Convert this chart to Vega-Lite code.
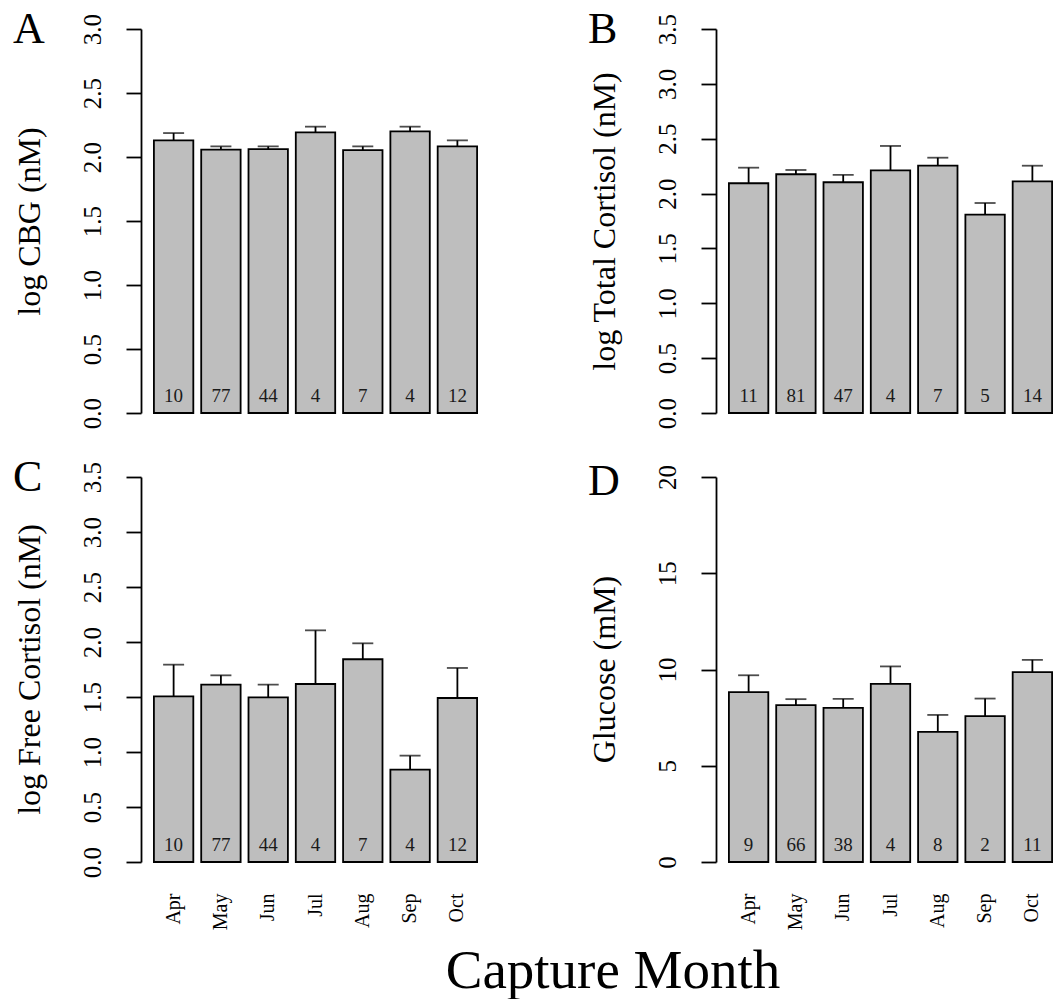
{
  "$schema": "https://vega.github.io/schema/vega-lite/v6.json",
  "background": "white",
  "padding": {"left": 13, "top": 8, "right": 0, "bottom": 0},
  "config": {
    "font": "Liberation Serif",
    "view": {"stroke": null},
    "axis": {"grid": false, "labelColor": "black", "titleColor": "black", "domainColor": "black", "tickColor": "black", "titleFontWeight": "normal", "labelFont": "Liberation Serif", "titleFont": "Liberation Serif"},
    "title": {"font": "Liberation Serif", "fontWeight": "normal", "color": "black"}
  },
  "datasets": {
    "stats": [
      {"panel": "A", "month": "Apr", "mean": 2.13, "upper": 2.187, "n": 10},
      {"panel": "A", "month": "May", "mean": 2.057, "upper": 2.083, "n": 77},
      {"panel": "A", "month": "Jun", "mean": 2.062, "upper": 2.083, "n": 44},
      {"panel": "A", "month": "Jul", "mean": 2.192, "upper": 2.237, "n": 4},
      {"panel": "A", "month": "Aug", "mean": 2.054, "upper": 2.083, "n": 7},
      {"panel": "A", "month": "Sep", "mean": 2.2, "upper": 2.237, "n": 4},
      {"panel": "A", "month": "Oct", "mean": 2.083, "upper": 2.13, "n": 12},
      {"panel": "B", "month": "Apr", "mean": 2.094, "upper": 2.236, "n": 11},
      {"panel": "B", "month": "May", "mean": 2.176, "upper": 2.215, "n": 81},
      {"panel": "B", "month": "Jun", "mean": 2.103, "upper": 2.17, "n": 47},
      {"panel": "B", "month": "Jul", "mean": 2.212, "upper": 2.434, "n": 4},
      {"panel": "B", "month": "Aug", "mean": 2.254, "upper": 2.327, "n": 7},
      {"panel": "B", "month": "Sep", "mean": 1.808, "upper": 1.914, "n": 5},
      {"panel": "B", "month": "Oct", "mean": 2.112, "upper": 2.254, "n": 14},
      {"panel": "C", "month": "Apr", "mean": 1.506, "upper": 1.794, "n": 10},
      {"panel": "C", "month": "May", "mean": 1.613, "upper": 1.697, "n": 77},
      {"panel": "C", "month": "Jun", "mean": 1.497, "upper": 1.613, "n": 44},
      {"panel": "C", "month": "Jul", "mean": 1.618, "upper": 2.106, "n": 4},
      {"panel": "C", "month": "Aug", "mean": 1.843, "upper": 1.988, "n": 7},
      {"panel": "C", "month": "Sep", "mean": 0.84, "upper": 0.967, "n": 4},
      {"panel": "C", "month": "Oct", "mean": 1.491, "upper": 1.764, "n": 12},
      {"panel": "D", "month": "Apr", "mean": 8.82, "upper": 9.7, "n": 9},
      {"panel": "D", "month": "May", "mean": 8.15, "upper": 8.46, "n": 66},
      {"panel": "D", "month": "Jun", "mean": 8.01, "upper": 8.47, "n": 38},
      {"panel": "D", "month": "Jul", "mean": 9.25, "upper": 10.16, "n": 4},
      {"panel": "D", "month": "Aug", "mean": 6.76, "upper": 7.64, "n": 8},
      {"panel": "D", "month": "Sep", "mean": 7.58, "upper": 8.49, "n": 2},
      {"panel": "D", "month": "Oct", "mean": 9.86, "upper": 10.5, "n": 11}
    ]
  },
  "title": {"text": "Capture Month", "orient": "bottom", "anchor": "middle", "frame": "bounds", "fontSize": 55, "baseline": "alphabetic", "offset": 58, "dx": 74},
  "columns": 2,
  "spacing": {"row": 64, "column": 226},
  "bounds": "flush",
  "concat": [
    {
      "width": 349, "height": 384,
      "data": {"name": "stats"},
      "transform": [{"filter": "datum.panel === 'A'"}],
      "title": {"text": "A", "anchor": "start", "frame": "group", "orient": "top", "align": "left", "baseline": "alphabetic", "offset": 0, "dx": -128, "dy": 74, "fontSize": 44},
      "encoding": {
        "x": {"field": "month", "type": "nominal", "sort": null, "scale": {"paddingInner": 0.1667, "paddingOuter": 0.273}, "axis": null}
      },
      "layer": [
        {"mark": {"type": "bar", "fill": "#bebebe", "stroke": "black", "strokeWidth": 1.8},
         "encoding": {"y": {"field": "mean", "type": "quantitative", "scale": {"domain": [0, 3], "nice": false},
           "axis": {"title": "log CBG (nM)", "values": [0, 0.5, 1, 1.5, 2, 2.5, 3], "format": ".1f", "labelAngle": -90, "labelAlign": "center", "labelBaseline": "alphabetic", "labelPadding": 26, "tickSize": 15, "tickWidth": 1.8, "domainWidth": 1.8, "labelFontSize": 25, "labelOverlap": false, "labelBound": false, "titleFontSize": 32, "titleAngle": 270, "titleX": -102, "titleY": 192, "titleBaseline": "alphabetic", "titleAlign": "center"}}}},
        {"mark": {"type": "rule", "color": "black", "strokeWidth": 1.8},
         "encoding": {"y": {"field": "mean", "type": "quantitative"}, "y2": {"field": "upper"}}},
        {"mark": {"type": "tick", "color": "black", "size": 21, "thickness": 1.8},
         "encoding": {"y": {"field": "upper", "type": "quantitative"}}},
        {"mark": {"type": "text", "fontSize": 19, "baseline": "alphabetic", "dy": -11, "color": "#1a1a1a"},
         "encoding": {"y": {"datum": 0, "type": "quantitative"}, "text": {"field": "n", "type": "nominal"}}}
      ]
    },
    {
      "width": 349, "height": 384,
      "data": {"name": "stats"},
      "transform": [{"filter": "datum.panel === 'B'"}],
      "title": {"text": "B", "anchor": "start", "frame": "group", "orient": "top", "align": "left", "baseline": "alphabetic", "offset": 0, "dx": -128, "dy": 74, "fontSize": 44},
      "encoding": {
        "x": {"field": "month", "type": "nominal", "sort": null, "scale": {"paddingInner": 0.1667, "paddingOuter": 0.273}, "axis": null}
      },
      "layer": [
        {"mark": {"type": "bar", "fill": "#bebebe", "stroke": "black", "strokeWidth": 1.8},
         "encoding": {"y": {"field": "mean", "type": "quantitative", "scale": {"domain": [0, 3.5], "nice": false},
           "axis": {"title": "log Total Cortisol (nM)", "values": [0, 0.5, 1, 1.5, 2, 2.5, 3, 3.5], "format": ".1f", "labelAngle": -90, "labelAlign": "center", "labelBaseline": "alphabetic", "labelPadding": 26, "tickSize": 15, "tickWidth": 1.8, "domainWidth": 1.8, "labelFontSize": 25, "labelOverlap": false, "labelBound": false, "titleFontSize": 32, "titleAngle": 270, "titleX": -102, "titleY": 192, "titleBaseline": "alphabetic", "titleAlign": "center"}}}},
        {"mark": {"type": "rule", "color": "black", "strokeWidth": 1.8},
         "encoding": {"y": {"field": "mean", "type": "quantitative"}, "y2": {"field": "upper"}}},
        {"mark": {"type": "tick", "color": "black", "size": 21, "thickness": 1.8},
         "encoding": {"y": {"field": "upper", "type": "quantitative"}}},
        {"mark": {"type": "text", "fontSize": 19, "baseline": "alphabetic", "dy": -11, "color": "#1a1a1a"},
         "encoding": {"y": {"datum": 0, "type": "quantitative"}, "text": {"field": "n", "type": "nominal"}}}
      ]
    },
    {
      "width": 349, "height": 385,
      "data": {"name": "stats"},
      "transform": [{"filter": "datum.panel === 'C'"}],
      "title": {"text": "C", "anchor": "start", "frame": "group", "orient": "top", "align": "left", "baseline": "alphabetic", "offset": 0, "dx": -128, "dy": 74, "fontSize": 44},
      "encoding": {
        "x": {"field": "month", "type": "nominal", "sort": null, "scale": {"paddingInner": 0.1667, "paddingOuter": 0.273},
          "axis": {"title": null, "domain": false, "ticks": false, "tickSize": 0, "labelAngle": -90, "labelAlign": "right", "labelBaseline": "middle", "labelPadding": 31, "labelFontSize": 20}}
      },
      "layer": [
        {"mark": {"type": "bar", "fill": "#bebebe", "stroke": "black", "strokeWidth": 1.8},
         "encoding": {"y": {"field": "mean", "type": "quantitative", "scale": {"domain": [0, 3.5], "nice": false},
           "axis": {"title": "log Free Cortisol (nM)", "values": [0, 0.5, 1, 1.5, 2, 2.5, 3, 3.5], "format": ".1f", "labelAngle": -90, "labelAlign": "center", "labelBaseline": "alphabetic", "labelPadding": 26, "tickSize": 15, "tickWidth": 1.8, "domainWidth": 1.8, "labelFontSize": 25, "labelOverlap": false, "labelBound": false, "titleFontSize": 32, "titleAngle": 270, "titleX": -102, "titleY": 192, "titleBaseline": "alphabetic", "titleAlign": "center"}}}},
        {"mark": {"type": "rule", "color": "black", "strokeWidth": 1.8},
         "encoding": {"y": {"field": "mean", "type": "quantitative"}, "y2": {"field": "upper"}}},
        {"mark": {"type": "tick", "color": "black", "size": 21, "thickness": 1.8},
         "encoding": {"y": {"field": "upper", "type": "quantitative"}}},
        {"mark": {"type": "text", "fontSize": 19, "baseline": "alphabetic", "dy": -11, "color": "#1a1a1a"},
         "encoding": {"y": {"datum": 0, "type": "quantitative"}, "text": {"field": "n", "type": "nominal"}}}
      ]
    },
    {
      "width": 349, "height": 385,
      "data": {"name": "stats"},
      "transform": [{"filter": "datum.panel === 'D'"}],
      "title": {"text": "D", "anchor": "start", "frame": "group", "orient": "top", "align": "left", "baseline": "alphabetic", "offset": 0, "dx": -128, "dy": 74, "fontSize": 44},
      "encoding": {
        "x": {"field": "month", "type": "nominal", "sort": null, "scale": {"paddingInner": 0.1667, "paddingOuter": 0.273},
          "axis": {"title": null, "domain": false, "ticks": false, "tickSize": 0, "labelAngle": -90, "labelAlign": "right", "labelBaseline": "middle", "labelPadding": 31, "labelFontSize": 20}}
      },
      "layer": [
        {"mark": {"type": "bar", "fill": "#bebebe", "stroke": "black", "strokeWidth": 1.8},
         "encoding": {"y": {"field": "mean", "type": "quantitative", "scale": {"domain": [0, 20], "nice": false},
           "axis": {"title": "Glucose (mM)", "values": [0, 5, 10, 15, 20], "format": "d", "labelAngle": -90, "labelAlign": "center", "labelBaseline": "alphabetic", "labelPadding": 26, "tickSize": 15, "tickWidth": 1.8, "domainWidth": 1.8, "labelFontSize": 25, "labelOverlap": false, "labelBound": false, "titleFontSize": 32, "titleAngle": 270, "titleX": -102, "titleY": 192, "titleBaseline": "alphabetic", "titleAlign": "center"}}}},
        {"mark": {"type": "rule", "color": "black", "strokeWidth": 1.8},
         "encoding": {"y": {"field": "mean", "type": "quantitative"}, "y2": {"field": "upper"}}},
        {"mark": {"type": "tick", "color": "black", "size": 21, "thickness": 1.8},
         "encoding": {"y": {"field": "upper", "type": "quantitative"}}},
        {"mark": {"type": "text", "fontSize": 19, "baseline": "alphabetic", "dy": -11, "color": "#1a1a1a"},
         "encoding": {"y": {"datum": 0, "type": "quantitative"}, "text": {"field": "n", "type": "nominal"}}}
      ]
    }
  ]
}
